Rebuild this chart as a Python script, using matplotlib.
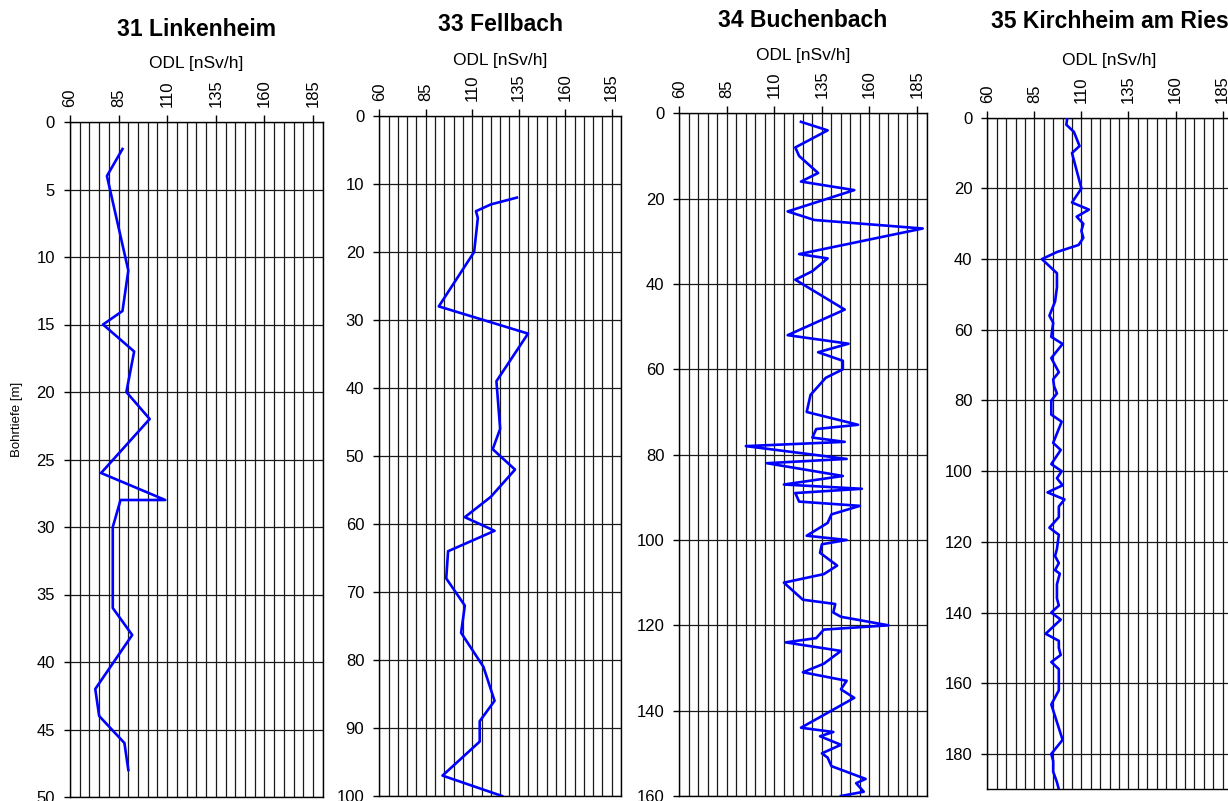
import matplotlib
matplotlib.use("Agg")
import matplotlib.pyplot as plt
from matplotlib.ticker import MultipleLocator

plt.rcParams['font.family'] = ['Liberation Sans', 'DejaVu Sans']

# depth [m] and ODL [nSv/h] per borehole
titles = ["31 Linkenheim", "33 Fellbach", "34 Buchenbach", "35 Kirchheim am Ries"]

depth_31 = [2, 4, 11, 14, 15, 17, 20, 22, 26, 28, 28, 30, 36, 38, 42, 44, 46, 48]
odl_31 = [87, 79, 90, 87, 77, 93, 89, 101, 76, 109, 86, 82, 82, 92, 73, 75, 88, 90]

depth_33 = [12, 13, 14, 15, 20, 28, 32, 39, 46, 49, 52, 56, 59, 61, 64, 68, 72, 76,
            81, 86, 89, 92, 97, 100]
odl_33 = [134, 120, 112, 113, 111, 92, 140, 123, 125, 121, 133, 120, 106, 122, 97, 96,
          106, 104, 116, 122, 114, 114, 94, 126]

depth_34 = [2, 4, 8, 10, 14, 16, 18, 23, 25, 27, 33, 34, 37, 39, 46, 52, 54, 56, 58, 60,
            62, 66, 70, 73, 74, 76, 77, 78, 81, 82, 85, 87, 88, 89, 91, 92, 94, 96, 99, 100,
            101, 103, 106, 108, 110, 114, 115, 117, 118, 120, 121, 123, 124, 126, 129, 131,
            133, 135, 137, 144, 145, 146, 148, 150, 151, 153, 156, 157, 159, 160]
odl_34 = [124, 138, 121, 123, 133, 124, 152, 117, 131, 188, 123, 138, 130, 121, 147, 117,
          149, 133, 146, 146, 137, 129, 127, 154, 132, 130, 147, 95, 148, 106, 146, 115,
          156, 121, 123, 155, 140, 138, 127, 148, 135, 134, 143, 136, 115, 125, 142, 141,
          145, 170, 136, 132, 116, 145, 136, 125, 148, 145, 152, 124, 141, 134, 145, 135,
          138, 140, 158, 153, 157, 145]

depth_35 = [0, 2, 4, 8, 10, 18, 20, 24, 26, 28, 30, 32, 34, 36, 38, 40, 44, 48, 52, 56,
            58, 62, 64, 68, 72, 74, 76, 78, 80, 84, 86, 92, 94, 98, 100, 102, 104, 106, 108,
            110, 113, 116, 118, 122, 124, 126, 128, 129, 132, 136, 138, 140, 142, 146, 148,
            150, 152, 154, 156, 162, 166, 171, 176, 180, 182, 185, 188, 190]
odl_35 = [102.5, 102, 106, 109, 105, 109, 110, 105, 114, 107.5, 111, 110, 111, 108.5, 97,
          89, 97, 97, 96, 93, 95, 94, 100, 94, 98, 95, 95.5, 97, 94, 94, 99.5, 95, 99, 94,
          99.5, 97, 100, 92, 101, 98, 98, 93, 98, 97, 96, 98, 96, 98.5, 97, 97, 98, 94, 99,
          91, 98, 98, 99, 94, 98, 98, 94, 97, 100, 94, 95, 95, 97, 98]

depths = [depth_31, depth_33, depth_34, depth_35]
odls = [odl_31, odl_33, odl_34, odl_35]
depth_max = [50, 100, 160, 190]
depth_step = [5, 10, 20, 20]
odl_ticks = [60, 85, 110, 135, 160, 185]

W, H = 1228, 801
# axes boxes in pixels: left, right, top, bottom
boxes = [(70, 322.7, 122, 797),
         (379.3, 621, 116, 796),
         (679.3, 926.5, 113.3, 796),
         (987.3, 1232, 117.7, 789.3)]
title_off = [86, 85, 86.6, 89.4]
label_off = [53.7, 51, 53, 52.7]

fig = plt.figure(figsize=(W / 100, H / 100), dpi=100)

for i in range(4):
    l, r, t, b = boxes[i]
    ax = fig.add_axes([l / W, (H - b) / H, (r - l) / W, (b - t) / H])
    hpx = b - t
    ax.plot(odls[i], depths[i], color='#0000FF', lw=1.9, zorder=3)

    ax.set_xlim(60, 190)
    ax.set_ylim(depth_max[i], 0)
    ax.set_xticks(odl_ticks)
    ax.xaxis.set_minor_locator(MultipleLocator(5))
    ax.set_yticks(range(0, depth_max[i] + 1, depth_step[i]) if depth_max[i] != 190
                  else range(0, 181, 20))
    ax.xaxis.tick_top()
    ax.xaxis.set_label_position('top')
    ax.tick_params(axis='x', which='major', labelsize=12, rotation=90,
                   length=4.8, width=1, pad=6)
    ax.tick_params(axis='x', which='minor', length=0)
    ax.tick_params(axis='y', labelsize=12, length=4.3, width=1, pad=6.5)
    ax.grid(True, axis='x', which='both', color='#1a1a1a', lw=0.9)
    ax.grid(True, axis='y', which='major', color='#1a1a1a', lw=0.9)
    for s in ax.spines.values():
        s.set_color('black')
        s.set_linewidth(1)

    ax.set_xlabel("ODL [nSv/h]", fontsize=12.5)
    ax.xaxis.set_label_coords(0.5, 1 + label_off[i] / hpx)
    ax.set_title(titles[i], fontsize=16.5, fontweight='bold',
                 y=1 + title_off[i] / hpx, pad=0)

fig.text(17 / W, (H - 419) / H, "Bohrtiefe [m]", rotation=90, fontsize=9.5,
         ha='center', va='center')

fig.savefig("out.png", dpi=100)
